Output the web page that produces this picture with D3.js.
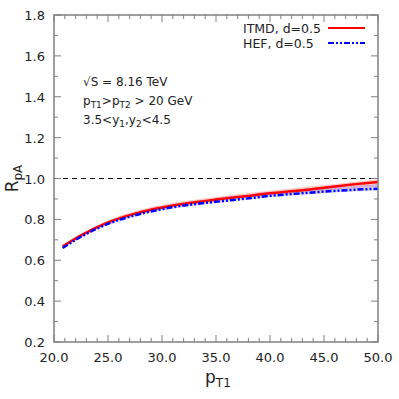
<!DOCTYPE html>
<html>
<head>
<meta charset="utf-8">
<script src="https://cdn.jsdelivr.net/npm/d3@7"></script>
<style>
  body { margin: 0; background: #fff; }
  svg text { font-family: "DejaVu Sans", sans-serif; fill: #222; }
</style>
</head>
<body>
<div id="chart"></div>
<script>
var pT      = [20.8, 22.5, 25, 27.5, 30, 32.5, 35, 37.5, 40, 42.5, 45, 47.5, 50];
var itmd    = [0.668, 0.722, 0.785, 0.828, 0.858, 0.880, 0.897, 0.912, 0.928, 0.940, 0.955, 0.970, 0.983];
var itmdLo  = [0.664, 0.717, 0.779, 0.822, 0.852, 0.873, 0.890, 0.904, 0.918, 0.929, 0.940, 0.952, 0.960];
var itmdHi  = [0.672, 0.728, 0.795, 0.840, 0.870, 0.892, 0.909, 0.925, 0.940, 0.953, 0.968, 0.982, 0.995];
var hef     = [0.660, 0.715, 0.778, 0.820, 0.850, 0.871, 0.886, 0.900, 0.915, 0.926, 0.936, 0.944, 0.950];
var hefLo   = [0.657, 0.711, 0.773, 0.815, 0.845, 0.866, 0.881, 0.895, 0.909, 0.919, 0.928, 0.936, 0.942];
var hefHi   = [0.664, 0.719, 0.783, 0.826, 0.856, 0.878, 0.894, 0.909, 0.925, 0.938, 0.951, 0.962, 0.972];
var xTicks  = [20, 25, 30, 35, 40, 45, 50];
var yTicks  = [0.2, 0.4, 0.6, 0.8, 1.0, 1.2, 1.4, 1.6, 1.8];

var width = 399, height = 399;
var margin = {top: 15, right: 21, bottom: 57, left: 54};
var w = width - margin.left - margin.right,
    h = height - margin.top - margin.bottom;

var svg = d3.select("#chart").append("svg")
    .attr("width", width)
    .attr("height", height);

var g = svg.append("g")
    .attr("transform", "translate(" + margin.left + "," + margin.top + ")");

var x = d3.scaleLinear().domain([20, 50]).range([0, w]);
var y = d3.scaleLinear().domain([0.2, 1.8]).range([h, 0]);

// bands
function band(lo, hi, color, op) {
  var area = d3.area()
    .x(function(d, i) { return x(pT[i]); })
    .y0(function(d, i) { return y(lo[i]); })
    .y1(function(d, i) { return y(hi[i]); })
    .curve(d3.curveMonotoneX);
  g.append("path").datum(pT).attr("d", area)
    .attr("fill", color).attr("fill-opacity", op);
}
band(itmdLo, itmdHi, "#ff8080", 0.45);
band(hefLo, hefHi, "#8080ff", 0.35);

function line(vals, color, dash, sw) {
  var l = d3.line()
    .x(function(d, i) { return x(pT[i]); })
    .y(function(d) { return y(d); })
    .curve(d3.curveMonotoneX);
  g.append("path").datum(vals).attr("d", l)
    .attr("fill", "none").attr("stroke", color)
    .attr("stroke-width", sw)
    .attr("stroke-dasharray", dash);
}
line(itmd, "#ff0000", null, 2.5);
line(hef, "#0000ff", "6,2,2,2,2,2", 2.5);

// dashed line at 1
g.append("line")
  .attr("x1", 0).attr("x2", w)
  .attr("y1", y(1)).attr("y2", y(1))
  .attr("stroke", "#000").attr("stroke-width", 1.2)
  .attr("stroke-dasharray", "5,4");

// ticks on all sides, inside
var tickColor = "#808080";
var xMinor = d3.range(20, 50.01, 1);
var yMinor = d3.range(0.2, 1.801, 0.1);
xMinor.forEach(function(v) {
  var major = Math.abs(v % 5) < 1e-6;
  var len = major ? 7 : 4;
  g.append("line").attr("x1", x(v)).attr("x2", x(v)).attr("y1", h).attr("y2", h - len)
    .attr("stroke", tickColor).attr("stroke-width", 1);
  g.append("line").attr("x1", x(v)).attr("x2", x(v)).attr("y1", 0).attr("y2", len)
    .attr("stroke", tickColor).attr("stroke-width", 1);
});
yMinor.forEach(function(v, i) {
  var major = i % 2 === 0;
  var len = major ? 7 : 4;
  g.append("line").attr("x1", 0).attr("x2", len).attr("y1", y(v)).attr("y2", y(v))
    .attr("stroke", tickColor).attr("stroke-width", 1);
  g.append("line").attr("x1", w).attr("x2", w - len).attr("y1", y(v)).attr("y2", y(v))
    .attr("stroke", tickColor).attr("stroke-width", 1);
});

// frame
g.append("rect").attr("width", w).attr("height", h)
  .attr("fill", "none").attr("stroke", tickColor).attr("stroke-width", 1.5);

// tick labels
g.selectAll(".xl").data(xTicks).enter().append("text")
  .attr("x", function(d) { return x(d); })
  .attr("y", h + 20)
  .attr("text-anchor", "middle")
  .style("font-size", "13px")
  .text(function(d) { return d3.format(".1f")(d); });

g.selectAll(".yl").data(yTicks).enter().append("text")
  .attr("x", -9)
  .attr("y", function(d) { return y(d) + 5; })
  .attr("text-anchor", "end")
  .style("font-size", "13px")
  .text(function(d) { return d3.format(".1f")(d); });

// axis titles
var xt = svg.append("text")
  .attr("x", 205).attr("y", 383)
  .style("font-size", "17px");
xt.append("tspan").text("p");
xt.append("tspan").attr("dy", 4).style("font-size", "12px").text("T1");

var yt = svg.append("text")
  .attr("transform", "translate(18," + (margin.top + y(1)) + ") rotate(-90)")
  .attr("text-anchor", "middle")
  .style("font-size", "17px");
yt.append("tspan").text("R");
yt.append("tspan").attr("dy", 4).style("font-size", "12px").text("pA");

// annotations
var ann = g.append("g").style("font-size", "12px");
ann.append("text").attr("x", 29).attr("y", 71).text("\u221AS = 8.16 TeV");
var a2 = ann.append("text").attr("x", 29).attr("y", 90);
a2.append("tspan").text("p");
a2.append("tspan").attr("dy", 3).style("font-size", "9px").text("T1");
a2.append("tspan").attr("dy", -3).text(">p");
a2.append("tspan").attr("dy", 3).style("font-size", "9px").text("T2");
a2.append("tspan").attr("dy", -3).text(" > 20 GeV");
var a3 = ann.append("text").attr("x", 29).attr("y", 109);
a3.append("tspan").text("3.5<y");
a3.append("tspan").attr("dy", 3).style("font-size", "9px").text("1");
a3.append("tspan").attr("dy", -3).text(",y");
a3.append("tspan").attr("dy", 3).style("font-size", "9px").text("2");
a3.append("tspan").attr("dy", -3).text("<4.5");

// legend
var legend = g.append("g").style("font-size", "12.5px");
legend.append("text").attr("x", 189).attr("y", 18).text("ITMD, d=0.5");
legend.append("text").attr("x", 189).attr("y", 33).text("HEF, d=0.5");
legend.append("line").attr("x1", 274).attr("x2", 311).attr("y1", 13).attr("y2", 13)
  .attr("stroke", "#ff0000").attr("stroke-width", 2);
legend.append("line").attr("x1", 274).attr("x2", 311).attr("y1", 28).attr("y2", 28)
  .attr("stroke", "#0000ff").attr("stroke-width", 2).attr("stroke-dasharray", "6,2,2,2,2,2");
</script>
</body>
</html>
